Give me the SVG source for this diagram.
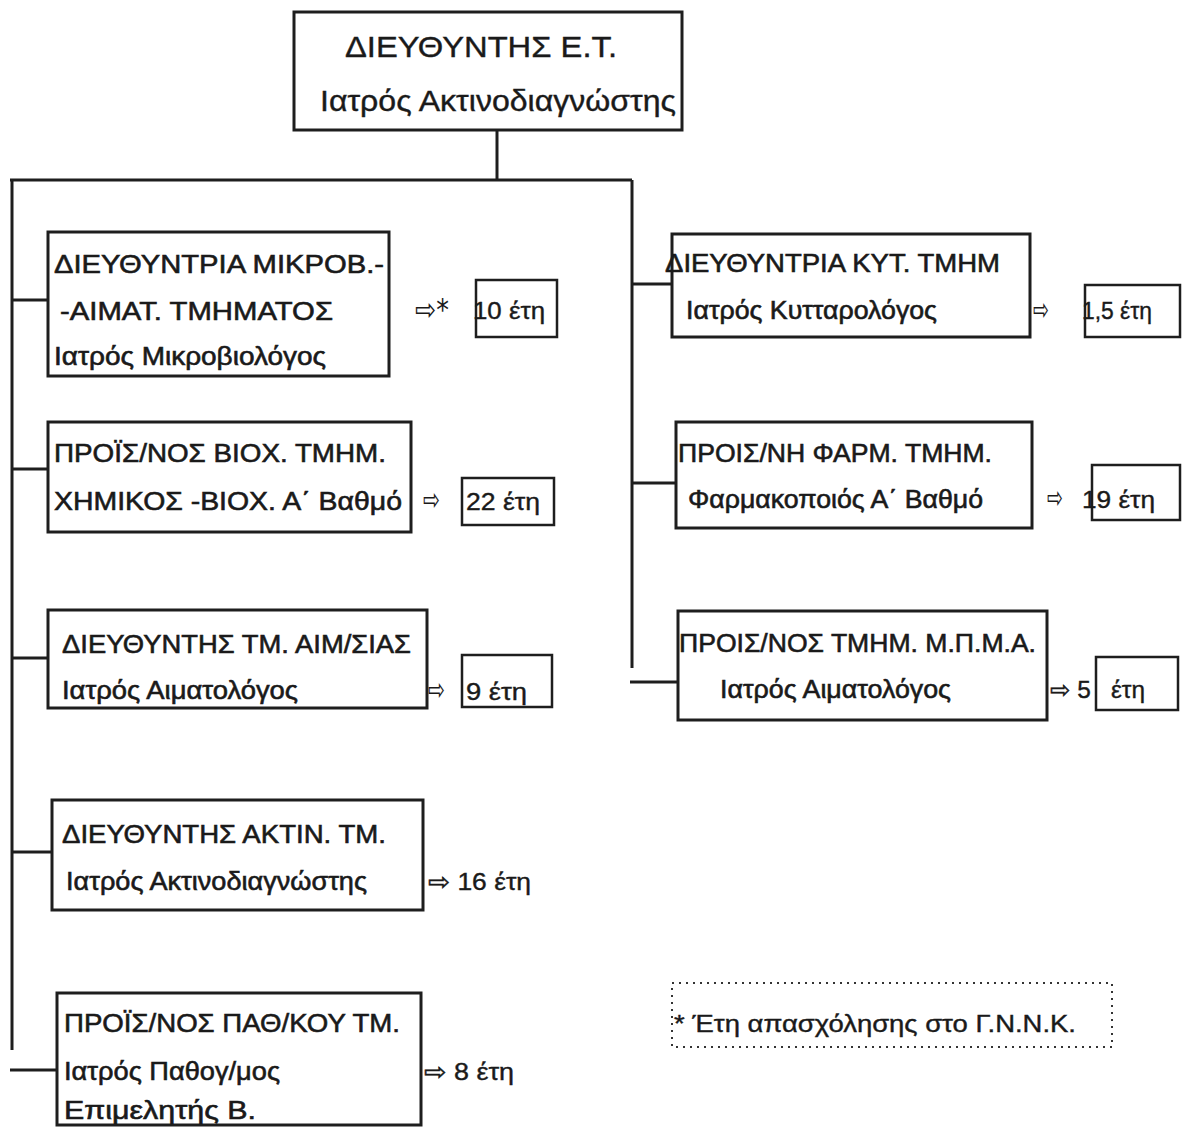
<svg xmlns="http://www.w3.org/2000/svg" width="1182" height="1127" viewBox="0 0 1182 1127">
<style>
.bg{fill:#ffffff}
.box{fill:#ffffff;stroke:#1e1e1e;stroke-width:3}
.yb{fill:none;stroke:#1e1e1e;stroke-width:2.5}
.ln{fill:none;stroke:#1e1e1e;stroke-width:3}
.t{font-family:"Liberation Sans",Arial,"DejaVu Sans",sans-serif;font-size:26px;fill:#1a1a1a;stroke:#1a1a1a;stroke-width:0.6}
.tt{font-family:"Liberation Sans",Arial,sans-serif;font-size:30px;fill:#1a1a1a;stroke:#1a1a1a;stroke-width:0.4}
.y{font-family:"Liberation Sans",Arial,"DejaVu Sans",sans-serif;font-size:24px;fill:#1a1a1a;stroke:#1a1a1a;stroke-width:0.4}
.ar{font-family:"DejaVu Sans",sans-serif;font-size:30px;fill:#1a1a1a}
.leg{fill:none;stroke:#333;stroke-width:2;stroke-dasharray:2 5}
</style>
<rect class="bg" x="0" y="0" width="1182" height="1127"/>

<g id="connectors">
<path class="ln" d="M497 130 V180"/>
<path class="ln" d="M10 180 H632"/>
<path class="ln" d="M12 180 V1050"/>
<path class="ln" d="M632 180 V668"/>
<path class="ln" d="M12 300 H48"/>
<path class="ln" d="M12 469 H48"/>
<path class="ln" d="M12 658 H48"/>
<path class="ln" d="M12 852 H52"/>
<path class="ln" d="M10 1070 H57"/>
<path class="ln" d="M632 284 H672"/>
<path class="ln" d="M632 483 H676"/>
<path class="ln" d="M630 682 H678"/>
</g>

<g id="node-director">
<rect class="box" x="294" y="12" width="388" height="118"/>
<text class="tt" x="345" y="57" textLength="272" lengthAdjust="spacingAndGlyphs">ΔΙΕΥΘΥΝΤΗΣ Ε.Τ.</text>
<text class="tt" x="320" y="111" textLength="356" lengthAdjust="spacingAndGlyphs">Ιατρός Ακτινοδιαγνώστης</text>
</g>

<g id="node-mikrob">
<rect class="box" x="48" y="232" width="341" height="144"/>
<text class="t" x="54" y="273" textLength="330" lengthAdjust="spacingAndGlyphs">ΔΙΕΥΘΥΝΤΡΙΑ ΜΙΚΡΟΒ.-</text>
<text class="t" x="60" y="320" textLength="273" lengthAdjust="spacingAndGlyphs">-ΑΙΜΑΤ. ΤΜΗΜΑΤΟΣ</text>
<text class="t" x="54" y="365" textLength="272" lengthAdjust="spacingAndGlyphs">Ιατρός Μικροβιολόγος</text>
<text class="ar" x="415" y="320" textLength="34" lengthAdjust="spacingAndGlyphs">⇨*</text>
<rect class="yb" x="476" y="280" width="81" height="57"/>
<text class="y" x="473" y="319" textLength="72" lengthAdjust="spacingAndGlyphs">10 έτη</text>
</g>

<g id="node-bioch">
<rect class="box" x="48" y="422" width="363" height="110"/>
<text class="t" x="54" y="462" textLength="332" lengthAdjust="spacingAndGlyphs">ΠΡΟΪΣ/ΝΟΣ ΒΙΟΧ. ΤΜΗΜ.</text>
<text class="t" x="54" y="510" textLength="348" lengthAdjust="spacingAndGlyphs">ΧΗΜΙΚΟΣ -ΒΙΟΧ. Α΄ Βαθμό</text>
<text class="ar" x="423" y="510" textLength="17" lengthAdjust="spacingAndGlyphs">⇨</text>
<rect class="yb" x="462" y="478" width="92" height="47"/>
<text class="y" x="466" y="510" textLength="74" lengthAdjust="spacingAndGlyphs">22 έτη</text>
</g>

<g id="node-aimat">
<rect class="box" x="48" y="610" width="379" height="98"/>
<text class="t" x="62" y="653" textLength="349" lengthAdjust="spacingAndGlyphs">ΔΙΕΥΘΥΝΤΗΣ ΤΜ. ΑΙΜ/ΣΙΑΣ</text>
<text class="t" x="62" y="699" textLength="236" lengthAdjust="spacingAndGlyphs">Ιατρός Αιματολόγος</text>
<text class="ar" x="428" y="700" textLength="17" lengthAdjust="spacingAndGlyphs">⇨</text>
<rect class="yb" x="462" y="655" width="90" height="52"/>
<text class="y" x="466" y="700" textLength="61" lengthAdjust="spacingAndGlyphs">9 έτη</text>
</g>

<g id="node-aktin">
<rect class="box" x="52" y="800" width="371" height="110"/>
<text class="t" x="62" y="843" textLength="324" lengthAdjust="spacingAndGlyphs">ΔΙΕΥΘΥΝΤΗΣ ΑΚΤΙΝ. ΤΜ.</text>
<text class="t" x="66" y="890" textLength="301" lengthAdjust="spacingAndGlyphs">Ιατρός Ακτινοδιαγνώστης</text>
<text class="y" x="428" y="890" textLength="103" lengthAdjust="spacingAndGlyphs">⇨ 16 έτη</text>
</g>

<g id="node-path">
<rect class="box" x="57" y="993" width="364" height="132"/>
<text class="t" x="64" y="1032" textLength="336" lengthAdjust="spacingAndGlyphs">ΠΡΟΪΣ/ΝΟΣ ΠΑΘ/ΚΟΥ ΤΜ.</text>
<text class="t" x="64" y="1080" textLength="216" lengthAdjust="spacingAndGlyphs">Ιατρός Παθογ/μος</text>
<text class="t" x="64" y="1119" textLength="192" lengthAdjust="spacingAndGlyphs">Επιμελητής Β.</text>
<text class="y" x="424" y="1080" textLength="90" lengthAdjust="spacingAndGlyphs">⇨ 8 έτη</text>
</g>

<g id="node-kyt">
<rect class="box" x="672" y="234" width="358" height="103"/>
<text class="t" x="665" y="272" textLength="335" lengthAdjust="spacingAndGlyphs">ΔΙΕΥΘΥΝΤΡΙΑ ΚΥΤ. ΤΜΗΜ</text>
<text class="t" x="686" y="319" textLength="251" lengthAdjust="spacingAndGlyphs">Ιατρός Κυτταρολόγος</text>
<text class="ar" x="1033" y="320" textLength="16" lengthAdjust="spacingAndGlyphs">⇨</text>
<rect class="yb" x="1085" y="285" width="95" height="52"/>
<text class="y" x="1082" y="319" textLength="70" lengthAdjust="spacingAndGlyphs">1,5 έτη</text>
</g>

<g id="node-farm">
<rect class="box" x="676" y="422" width="356" height="106"/>
<text class="t" x="678" y="462" textLength="314" lengthAdjust="spacingAndGlyphs">ΠΡΟΙΣ/ΝΗ ΦΑΡΜ. ΤΜΗΜ.</text>
<text class="t" x="688" y="508" textLength="295" lengthAdjust="spacingAndGlyphs">Φαρμακοποιός Α΄ Βαθμό</text>
<text class="ar" x="1047" y="508" textLength="16" lengthAdjust="spacingAndGlyphs">⇨</text>
<rect class="yb" x="1092" y="465" width="88" height="55"/>
<text class="y" x="1082" y="508" textLength="73" lengthAdjust="spacingAndGlyphs">19 έτη</text>
</g>

<g id="node-mpma">
<rect class="box" x="678" y="611" width="369" height="109"/>
<text class="t" x="679" y="652" textLength="357" lengthAdjust="spacingAndGlyphs">ΠΡΟΙΣ/ΝΟΣ ΤΜΗΜ. Μ.Π.Μ.Α.</text>
<text class="t" x="720" y="698" textLength="231" lengthAdjust="spacingAndGlyphs">Ιατρός Αιματολόγος</text>
<rect class="yb" x="1096" y="657" width="82" height="53"/>
<text class="y" x="1050" y="698" textLength="95" lengthAdjust="spacingAndGlyphs">⇨ 5&#160;&#160; έτη</text>
</g>

<g id="legend">
<rect class="leg" x="672" y="983" width="440" height="64"/>
<text class="y" x="674" y="1032" textLength="402" lengthAdjust="spacingAndGlyphs">* Έτη απασχόλησης στο Γ.Ν.Ν.Κ.</text>
</g>
</svg>
